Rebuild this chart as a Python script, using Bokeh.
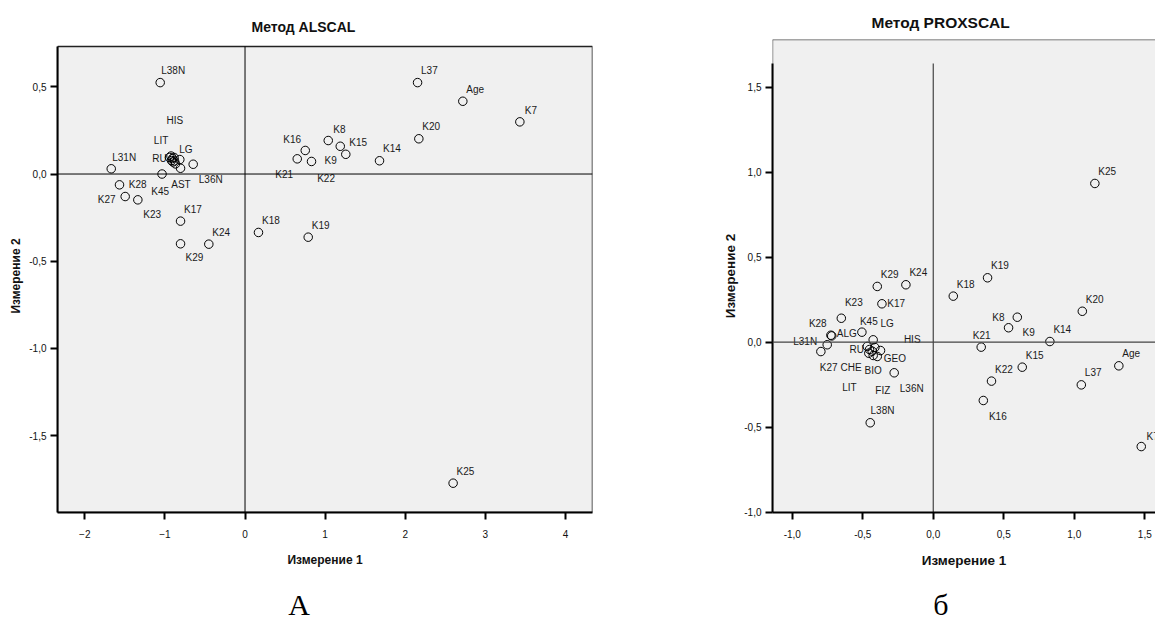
from bokeh.plotting import figure
from bokeh.layouts import row, column
from bokeh.models import (FixedTicker, Span, Div, Spacer, ColumnDataSource, Range1d,
                          CustomJSTickFormatter, BoxAnnotation)
from bokeh.core.properties import value
from bokeh.embed import file_html
from bokeh.resources import INLINE

FONT = "Liberation Sans"

# ---------------- ALSCAL (left panel) ----------------
als_names = ["K7", "K8", "K9", "K14", "K15", "K16", "K17", "K18", "K19", "K20",
             "K21", "K22", "K23", "K24", "K25", "K27", "K28", "K29", "K45",
             "L31N", "L36N", "L37", "L38N", "Age", "HIS", "LIT", "LG", "RU",
             "AST", "ALG", "GEO", "CHE", "BIO", "FIZ"]
als_x = [3.431, 1.039, 1.189, 1.679, 1.258, 0.752, -0.805, 0.168, 0.789, 2.170,
         0.652, 0.830, -1.338, -0.452, 2.598, -1.496, -1.567, -0.805, -1.036,
         -1.670, -0.647, 2.154, -1.059, 2.719, -0.924, -0.905, -0.814, -0.943,
         -0.805, -0.886, -0.868, -0.918, -0.880, -0.899]
als_y = [0.299, 0.192, 0.159, 0.076, 0.113, 0.135, -0.270, -0.335, -0.362, 0.202,
         0.087, 0.072, -0.148, -0.402, -1.772, -0.129, -0.062, -0.400, 0.000,
         0.030, 0.056, 0.524, 0.524, 0.417, 0.103, 0.089, 0.083, 0.095,
         0.033, 0.095, 0.058, 0.077, 0.075, 0.069]
als_hidden = ["ALG", "GEO", "CHE", "BIO", "FIZ"]
als_xticks = [-2, -1, 0, 1, 2, 3, 4]
als_yticks = [-1.5, -1.0, -0.5, 0.0, 0.5]

# ---------------- PROXSCAL (right panel) ----------------
prx_names = ["K7", "K8", "K9", "K14", "K15", "K16", "K17", "K18", "K19", "K20",
             "K21", "K22", "K23", "K24", "K25", "K27", "K28", "K29", "K45",
             "L31N", "L36N", "L37", "L38N", "Age", "HIS", "LIT", "LG", "RU",
             "AST", "ALG", "GEO", "CHE", "BIO", "FIZ"]
prx_x = [1.475, 0.534, 0.596, 0.827, 0.631, 0.355, -0.364, 0.142, 0.385, 1.057,
         0.340, 0.413, -0.652, -0.194, 1.146, -0.797, -0.726, -0.397, -0.506,
         -0.752, -0.277, 1.050, -0.447, 1.316, -0.414, -0.426, -0.426, -0.468,
         -0.452, -0.720, -0.374, -0.457, -0.433, -0.397]
prx_y = [-0.614, 0.085, 0.147, 0.004, -0.147, -0.343, 0.226, 0.271, 0.379, 0.182,
         -0.029, -0.229, 0.141, 0.338, 0.934, -0.055, 0.041, 0.328, 0.059,
         -0.015, -0.180, -0.251, -0.474, -0.139, -0.031, -0.078, 0.014, -0.025,
         -0.043, 0.037, -0.049, -0.065, -0.053, -0.084]
prx_hidden = ["AST"]
prx_xticks = [-1.0, -0.5, 0.0, 0.5, 1.0, 1.5]
prx_yticks = [-1.0, -0.5, 0.0, 0.5, 1.0, 1.5]
PRX_AXIS_TOP = 1.64

# ---------------- label placement (screen px: left edge dx, centre dy, +down) ----------------
DEFAULT_OFF = (3.5, -12)
als_offsets = {
    "K16": (-22, -10.7), "K8": (5, -11), "K9": (-15.7, 14.3), "K21": (-22, 16),
    "K22": (5.7, 17), "K7": (5, -11), "L38N": (1, -12), "HIS": (-4.5, -36),
    "LIT": (-18.7, -18), "LG": (-0.6, -9.7), "RU": (-17.3, 1.3), "L31N": (1, -11.6),
    "K28": (9.3, 0), "K27": (-27.4, 3.3), "K45": (-10.8, 17.5), "K23": (5.4, 15),
    "AST": (-9.3, 16.6), "L36N": (5.6, 15.5), "K29": (5, 14),
}
prx_offsets = {
    "K8": (-16.3, -10.3), "K9": (5.3, 15.6), "K21": (-8.4, -11.4), "K16": (5.6, 16),
    "K17": (5.4, 0), "K23": (3.6, -15.4), "K28": (-22, -11.4), "ALG": (5, -2.2),
    "L31N": (-34, -3.6), "K27": (-1, 15.7), "K45": (-2, -10.7), "LG": (7.3, -16.6),
    "HIS": (29, -7.7), "RU": (-17.7, 3), "GEO": (3.3, 8.3), "BIO": (-7.7, 19.3),
    "CHE": (-28.3, 14.6), "LIT": (-31, 32.3), "FIZ": (-2, 34), "L36N": (5.6, 15.4),
    "L38N": (0.3, -12), "K7": (5.3, -10.3),
}

H = 575
TOP = 39          # common top border (frames are aligned in a row)
BOTTOM = 63
COMMA = CustomJSTickFormatter(code="return tick.toFixed(1).replace('.', ',');")


def panel(names, xs, ys, offsets, hidden, xr, yr, width, mbl, mbr):
    p = figure(width=width, height=H, x_range=Range1d(*xr), y_range=Range1d(*yr),
               output_backend="svg", toolbar_location=None,
               min_border_left=mbl, min_border_right=mbr, min_border_top=TOP,
               min_border_bottom=BOTTOM)
    p.border_fill_color = "white"
    p.grid.visible = False
    src = ColumnDataSource(dict(
        x=xs, y=ys,
        t=["" if n in hidden else n for n in names],
        dx=[offsets.get(n, DEFAULT_OFF)[0] for n in names],
        dy=[offsets.get(n, DEFAULT_OFF)[1] for n in names],
    ))
    p.text(x="x", y="y", text="t", x_offset="dx", y_offset="dy", source=src,
           text_align="left", text_baseline="middle", text_font=value(FONT),
           text_font_size="10px", text_color="#1a1a1a")
    p.scatter(x="x", y="y", source=src, marker="circle", size=8.5,
              fill_color=None, line_color="black", line_width=1)
    for ax in (p.xaxis[0], p.yaxis[0]):
        ax.axis_line_width = 2
        ax.axis_line_color = "black"
        ax.major_tick_line_width = 2
        ax.major_tick_out = 7
        ax.major_tick_in = 0
        ax.minor_tick_out = 0
        ax.minor_tick_in = 0
        ax.major_label_text_font = FONT
        ax.major_label_text_font_size = "10px"
        ax.major_label_text_color = "#111"
        ax.axis_label_text_font = FONT
        ax.axis_label_text_font_style = "bold"
        ax.axis_label_text_color = "#111"
    p.xaxis.major_label_standoff = 10
    p.yaxis.major_label_standoff = 4
    p.xaxis.axis_label = "Измерение 1"
    p.yaxis.axis_label = "Измерение 2"
    p.xaxis.axis_label_standoff = 12
    p.title.text_font = FONT
    p.title.text_font_style = "bold"
    p.title.align = "left"
    p.title.text_color = "#111"
    return p


# ---- left panel (its visible box starts a little lower than the frame) ----
ALS_XR = (-2.341, 4.338)
ALS_YR = (-1.940, 0.771)
ALS_BOX_TOP = 0.731
p1 = panel(als_names, als_x, als_y, als_offsets, als_hidden,
           ALS_XR, ALS_YR, 680, 57, 88)
p1.background_fill_color = "white"
p1.outline_line_color = None
p1.add_layout(BoxAnnotation(left=ALS_XR[0], right=ALS_XR[1], bottom=ALS_YR[0], top=ALS_BOX_TOP,
                            fill_color="#f0f0f0", fill_alpha=1.0, line_color="#222",
                            line_alpha=1.0, line_width=1.5, level="underlay"))
p1.title.text = "Метод ALSCAL"
p1.title.text_font_size = "14px"
p1.title.offset = 194
p1.title.standoff = 9
p1.xaxis.ticker = FixedTicker(ticks=als_xticks)
p1.yaxis.ticker = FixedTicker(ticks=als_yticks)
p1.yaxis.formatter = COMMA
p1.yaxis.bounds = (ALS_YR[0], ALS_BOX_TOP)
p1.yaxis.axis_label_standoff = 3
p1.xaxis.axis_label_text_font_size = "12px"
p1.yaxis.axis_label_text_font_size = "12px"
p1.add_layout(Span(location=0, dimension="width", line_color="black", line_width=1))
p1.segment(x0=[0], y0=[ALS_YR[0]], x1=[0], y1=[ALS_BOX_TOP], line_color="black", line_width=1)

# ---- right panel ----
PRX_XR = (-1.140, 1.576)
PRX_YR = (-1.002, 1.781)
p2 = panel(prx_names, prx_x, prx_y, prx_offsets, prx_hidden,
           PRX_XR, PRX_YR, 475, 92, 0)
p2.background_fill_color = "#f0f0f0"
p2.title.text = "Метод PROXSCAL"
p2.title.text_font_size = "15.5px"
p2.title.offset = 99
p2.title.standoff = 18
p2.xaxis.ticker = FixedTicker(ticks=prx_xticks)
p2.yaxis.ticker = FixedTicker(ticks=prx_yticks)
p2.xaxis.formatter = COMMA
p2.yaxis.formatter = COMMA
p2.yaxis.bounds = (PRX_YR[0], PRX_AXIS_TOP)
p2.yaxis.axis_label_standoff = 3
p2.xaxis.axis_label_text_font_size = "13.5px"
p2.yaxis.axis_label_text_font_size = "13.5px"
p2.outline_line_color = None
p2.add_layout(Span(location=PRX_YR[1], dimension="width", line_color="#555", line_width=1.5))
p2.add_layout(Span(location=PRX_XR[0], dimension="height", line_color="#777", line_width=1.5,
                   level="underlay"))
p2.add_layout(Span(location=0, dimension="width", line_color="#444", line_width=1.2))
p2.segment(x0=[0], y0=[PRX_YR[0]], x1=[0], y1=[PRX_AXIS_TOP], line_color="#444", line_width=1.2)

# ---- captions under the panels ----
CAP_STYLE = {"font-family": "'Liberation Serif', serif", "font-size": "30px",
             "line-height": "59px", "text-align": "center", "color": "black"}
cap1 = Div(text="А", width=598, height=46, margin=0, styles=CAP_STYLE)
gap = Spacer(width=293, height=46, margin=0)
cap2 = Div(text="б", width=100, height=46, margin=0, styles=CAP_STYLE)

layout = column(row(p1, p2), row(cap1, gap, cap2))
open("out.html", "w").write(file_html(layout, INLINE))
